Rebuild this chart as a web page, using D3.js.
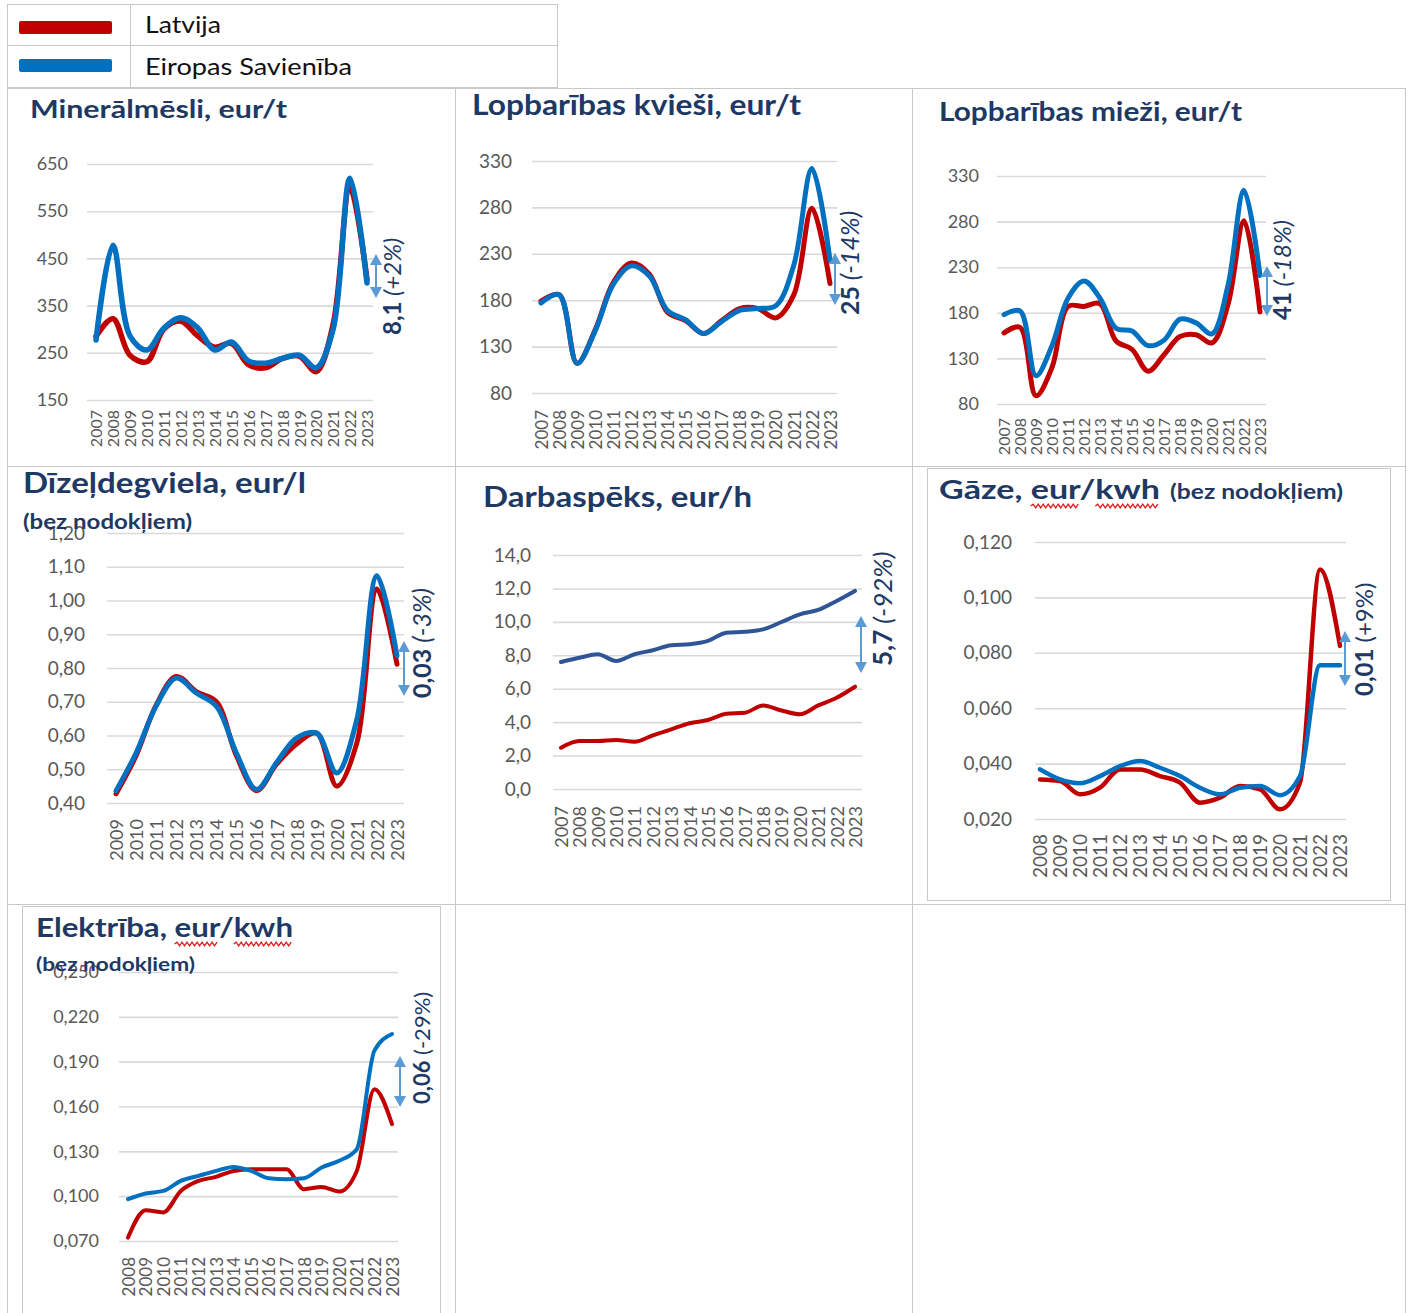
<!DOCTYPE html>
<html><head><meta charset="utf-8">
<script src="https://cdn.jsdelivr.net/npm/d3@7"></script>
<style>
body{margin:0;background:#fff}
svg{display:block}
text{font-family:Lato,"Open Sans","DejaVu Sans",sans-serif}
</style>
</head><body>
<svg id="c" width="1409" height="1313"></svg>
<script>
// ---------------- DATA ----------------
const seriesNames = ["Latvija", "Eiropas Savienība"];

const years2007 = [2007,2008,2009,2010,2011,2012,2013,2014,2015,2016,2017,2018,2019,2020,2021,2022,2023];
const years2008 = [2008,2009,2010,2011,2012,2013,2014,2015,2016,2017,2018,2019,2020,2021,2022,2023];
const years2009 = [2009,2010,2011,2012,2013,2014,2015,2016,2017,2018,2019,2020,2021,2022,2023];

const panelTitles = ["Minerālmēsli, eur/t","Lopbarības kvieši, eur/t","Lopbarības mieži, eur/t",
  "Dīzeļdegviela, eur/l","Darbaspēks, eur/h","Gāze, eur/kwh","Elektrība, eur/kwh"];
const subTitle = "(bez nodokļiem)";

const mineralLV = [285,322,245,231,300,317,286,262,270,225,218,238,243,210,310,600,405];
const mineralEU = [277,478,286,256,302,324,303,256,273,233,228,238,245,218,300,620,398];
const mineralTicks = [150,250,350,450,550,650];

const wheatLV = [179,186,112,148,199,220,208,167,158,144,158,171,171,161,186,279,198];
const wheatEU = [177,186,112,147,197,217,206,169,159,144,157,169,171,174,218,322,223];
const wheatTicks = [80,130,180,230,280,330];

const barleyLV = [158,164,89,120,187,187,190,149,140,116,134,154,156,147,189,281,181];
const barleyEU = [178,182,111,144,196,215,196,163,160,144,150,173,169,157,210,314,221];
const barleyTicks = [80,130,180,230,280,330];

const dieselLV = [0.427,0.540,0.690,0.775,0.730,0.700,0.540,0.437,0.515,0.575,0.607,0.450,0.578,1.034,0.811];
const dieselEU = [0.436,0.548,0.687,0.770,0.726,0.687,0.548,0.440,0.520,0.593,0.607,0.489,0.648,1.073,0.836];
const dieselTicks = [0.40,0.50,0.60,0.70,0.80,0.90,1.00,1.10,1.20];

const labourLV = [2.47,2.87,2.87,2.93,2.83,3.21,3.57,3.93,4.13,4.50,4.56,5.00,4.70,4.47,5.00,5.46,6.12];
const labourEU = [7.60,7.85,8.06,7.66,8.06,8.30,8.60,8.66,8.86,9.35,9.41,9.55,9.99,10.45,10.71,11.25,11.85];
const labourTicks = [0,2,4,6,8,10,12,14];

const gasLV = [0.0343,0.0337,0.0289,0.0313,0.0379,0.0379,0.0355,0.0331,0.0259,0.0277,0.0319,0.0307,0.0235,0.0331,0.1101,0.0825];
const gasEU = [0.0379,0.0343,0.0329,0.0355,0.0391,0.0409,0.0385,0.0355,0.0313,0.0289,0.0313,0.0319,0.0286,0.0355,0.0755,0.0755];
const gasTicks = [0.020,0.040,0.060,0.080,0.100,0.120];

const elecLV = [0.0723,0.0906,0.0891,0.1035,0.1102,0.1129,0.1169,0.1180,0.1180,0.1180,0.1047,0.1062,0.1031,0.1169,0.1716,0.1482];
const elecEU = [0.0980,0.1018,0.1035,0.1102,0.1136,0.1169,0.1196,0.1169,0.1120,0.1113,0.1120,0.1192,0.1237,0.1314,0.1974,0.2085];
const elecTicks = [0.070,0.100,0.130,0.160,0.190,0.220,0.250];

const gapValues = ["8,1","25","41","0,03","5,7","0,01","0,06"];
const gapPercents = ["(+2%)","(-14%)","(-18%)","(-3%)","(-92%)","(+9%)","(-29%)"];

// ---------------- STYLE ----------------
const C_LV = "#c00000", C_EU = "#0070c0", C_EU2 = "#2f5597";
const NAVY = "#203864", GRID = "#d9d9d9", TICKC = "#595959", ARROW = "#5b9bd5", FRAME = "#c8c8c8";
const f0 = v => d3.format("d")(v);
const f1 = v => d3.format(".1f")(v).replace(".", ",");
const f2 = v => d3.format(".2f")(v).replace(".", ",");
const f3 = v => d3.format(".3f")(v).replace(".", ",");

const svg = d3.select("#c");

// ---------------- TABLE FRAME ----------------
const fr = svg.append("g").attr("stroke", FRAME).attr("stroke-width", 1).attr("fill", "none");
[88.5, 466.5, 904.5].forEach(yy => fr.append("line").attr("x1", 7).attr("x2", 1406).attr("y1", yy).attr("y2", yy));
[7.5, 455.5, 912.5, 1405.5].forEach(xx => fr.append("line").attr("x1", xx).attr("x2", xx).attr("y1", 88).attr("y2", 1313));
fr.append("rect").attr("x", 7.5).attr("y", 4.5).attr("width", 550).attr("height", 83);
fr.append("line").attr("x1", 7.5).attr("x2", 557.5).attr("y1", 45.5).attr("y2", 45.5);
fr.append("line").attr("x1", 130.5).attr("x2", 130.5).attr("y1", 4.5).attr("y2", 87.5);
fr.append("rect").attr("x", 927.5).attr("y", 468.5).attr("width", 463).attr("height", 432);
fr.append("rect").attr("x", 22.5).attr("y", 906.5).attr("width", 418).attr("height", 410);

// ---------------- LEGEND ----------------
const leg = svg.append("g");
[C_LV, C_EU].forEach((c, i) => {
  leg.append("rect").attr("x", 19).attr("y", 21 + i * 38).attr("width", 93).attr("height", 13).attr("rx", 2).attr("fill", c);
  leg.append("text").attr("x", 145).attr("y", 33 + i * 42).attr("font-size", 24).attr("fill", "#111")
    .attr("textLength", i ? 207 : 76).attr("lengthAdjust", "spacingAndGlyphs").text(seriesNames[i]);
});

// ---------------- PANELS ----------------
const panels = [
  {title: panelTitles[0], tx: 30, ty: 118, tfs: 25, tlen: 257,
   years: years2007, lv: mineralLV, eu: mineralEU, ticks: mineralTicks, fmt: f0,
   gx0: 87, gx1: 373, px0: 96, px1: 367, yTop: 164, yBot: 400, tickRight: 68, tickFs: 18,
   yearTop: 410, yearFs: 16, lw: 5.5, curve: d3.curveCatmullRom.alpha(0.5), eu_c: C_EU,
   ann: {ax: 376, ay0: 254, ay1: 298, cx: 392, start: 335, fs: 24, italic: true}},
  {title: panelTitles[1], tx: 472, ty: 115, tfs: 28, tlen: 329,
   years: years2007, lv: wheatLV, eu: wheatEU, ticks: wheatTicks, fmt: f0,
   gx0: 532, gx1: 837, px0: 541, px1: 830, yTop: 161, yBot: 393, tickRight: 512, tickFs: 19,
   yearTop: 410, yearFs: 17, lw: 5, curve: d3.curveCatmullRom.alpha(0.5), eu_c: C_EU,
   ann: {ax: 835, ay0: 253, ay1: 305, cx: 850, start: 315, fs: 25, italic: true}},
  {title: panelTitles[2], tx: 939, ty: 121, tfs: 26, tlen: 303,
   years: years2007, lv: barleyLV, eu: barleyEU, ticks: barleyTicks, fmt: f0,
   gx0: 997, gx1: 1266, px0: 1004, px1: 1260, yTop: 176, yBot: 404, tickRight: 979, tickFs: 18,
   yearTop: 418, yearFs: 16, lw: 5, curve: d3.curveCatmullRom.alpha(0.5), eu_c: C_EU,
   ann: {ax: 1267, ay0: 266, ay1: 316, cx: 1282, start: 320, fs: 24, italic: true}},
  {title: panelTitles[3], tx: 23, ty: 493, tfs: 29, tlen: 283, sub: {x: 23, y: 529, fs: 20, len: 169},
   years: years2009, lv: dieselLV, eu: dieselEU, ticks: dieselTicks, fmt: f2,
   gx0: 107, gx1: 404, px0: 116, px1: 397, yTop: 533, yBot: 803, tickRight: 85, tickFs: 19,
   yearTop: 819, yearFs: 18, lw: 5, curve: d3.curveCatmullRom.alpha(0.5), eu_c: C_EU,
   ann: {ax: 404, ay0: 641, ay1: 696, cx: 422, start: 698, fs: 25, italic: true}},
  {title: panelTitles[4], tx: 483, ty: 507, tfs: 28, tlen: 269,
   years: years2007, lv: labourLV, eu: labourEU, ticks: labourTicks, fmt: f1,
   gx0: 553, gx1: 862, px0: 561, px1: 855, yTop: 555, yBot: 789, tickRight: 531, tickFs: 19,
   yearTop: 806, yearFs: 18, lw: 4, curve: d3.curveMonotoneX, eu_c: C_EU2,
   ann: {ax: 861, ay0: 616, ay1: 673, cx: 883, start: 666, fs: 26, italic: true}},
  {title: panelTitles[5], tx: 939, ty: 499, tfs: 26, tlen: 221, sub: {x: 1170, y: 499, fs: 20, len: 173}, wavy: true,
   years: years2008, lv: gasLV, eu: gasEU, ticks: gasTicks, fmt: f3,
   gx0: 1035, gx1: 1346, px0: 1040, px1: 1340, yTop: 542, yBot: 819, tickRight: 1012, tickFs: 19,
   yearTop: 834, yearFs: 19, lw: 4.5, curve: d3.curveMonotoneX, eu_c: C_EU,
   ann: {ax: 1345, ay0: 631, ay1: 686, cx: 1364, start: 696, fs: 24, italic: false}},
  {title: panelTitles[6], tx: 36, ty: 937, tfs: 26, tlen: 257, sub: {x: 36, y: 971, fs: 19, len: 159}, wavy: true,
   years: years2008, lv: elecLV, eu: elecEU, ticks: elecTicks, fmt: f3,
   gx0: 119, gx1: 398, px0: 128, px1: 392, yTop: 972, yBot: 1241, tickRight: 99, tickFs: 18,
   yearTop: 1257, yearFs: 17, lw: 4, curve: d3.curveMonotoneX, eu_c: C_EU,
   ann: {ax: 400, ay0: 1056, ay1: 1107, cx: 422, start: 1104, fs: 22, italic: false}}
];

function wavyPath(x0, x1, yy) {
  let d = `M${x0},${yy}`;
  let up = true;
  for (let xx = x0 + 2.5; xx <= x1; xx += 2.5) { d += `L${xx},${yy + (up ? -1.8 : 1.8)}`; up = !up; }
  return d;
}

panels.forEach((p, idx) => {
  const g = svg.append("g");
  const x = d3.scalePoint().domain(p.years).range([p.px0, p.px1]);
  const y = d3.scaleLinear().domain([p.ticks[0], p.ticks[p.ticks.length - 1]]).range([p.yBot, p.yTop]);

  const ya = g.append("g").attr("transform", `translate(${p.gx0},0)`)
    .call(d3.axisLeft(y).tickValues(p.ticks).tickFormat(p.fmt).tickSize(-(p.gx1 - p.gx0)).tickPadding(p.gx0 - p.tickRight));
  ya.select(".domain").remove();
  ya.selectAll(".tick line").attr("stroke", GRID).attr("stroke-width", 1.6);
  ya.selectAll(".tick text").attr("fill", TICKC).attr("font-size", p.tickFs).attr("font-family", "Lato");

  const xa = g.append("g").attr("transform", `translate(0,${p.yearTop})`)
    .call(d3.axisBottom(x).tickSize(0).tickPadding(0));
  xa.select(".domain").remove();
  xa.selectAll(".tick text").attr("fill", TICKC).attr("font-size", p.yearFs).attr("font-family", "Lato")
    .attr("transform", "rotate(-90)").attr("text-anchor", "end").attr("x", 0).attr("y", 0).attr("dy", "0.36em");

  const line = d3.line().x((d, i) => x(p.years[i])).y(d => y(d)).curve(p.curve);
  g.append("path").datum(p.lv).attr("d", line).attr("fill", "none").attr("stroke", C_LV)
    .attr("stroke-width", p.lw).attr("stroke-linecap", "round").attr("stroke-linejoin", "round");
  g.append("path").datum(p.eu).attr("d", line).attr("fill", "none").attr("stroke", p.eu_c)
    .attr("stroke-width", p.lw).attr("stroke-linecap", "round").attr("stroke-linejoin", "round");

  const t = g.append("text").attr("x", p.tx).attr("y", p.ty).attr("font-size", p.tfs).attr("font-weight", 700)
    .attr("fill", NAVY).attr("textLength", p.tlen).attr("lengthAdjust", "spacingAndGlyphs").text(p.title);
  if (p.sub) {
    g.append("text").attr("x", p.sub.x).attr("y", p.sub.y).attr("font-size", p.sub.fs).attr("font-weight", 700)
      .attr("fill", NAVY).attr("textLength", p.sub.len).attr("lengthAdjust", "spacingAndGlyphs").text(subTitle);
  }
  if (p.wavy) {
    const node = t.node();
    const s = p.title;
    ["eur", "kwh"].forEach(w => {
      const i0 = s.indexOf(w), i1 = i0 + w.length - 1;
      try {
        const a = node.getExtentOfChar(i0), b = node.getExtentOfChar(i1);
        g.append("path").attr("d", wavyPath(a.x, b.x + b.width, p.ty + 7)).attr("fill", "none")
          .attr("stroke", "#e02020").attr("stroke-width", 1.4);
      } catch (e) {}
    });
  }

  const a = p.ann;
  g.append("line").attr("x1", a.ax).attr("x2", a.ax).attr("y1", a.ay0 + 8).attr("y2", a.ay1 - 8)
    .attr("stroke", ARROW).attr("stroke-width", 2);
  g.append("path").attr("d", `M${a.ax},${a.ay0}L${a.ax - 6},${a.ay0 + 11}L${a.ax + 6},${a.ay0 + 11}Z`).attr("fill", ARROW);
  g.append("path").attr("d", `M${a.ax},${a.ay1}L${a.ax - 6},${a.ay1 - 11}L${a.ax + 6},${a.ay1 - 11}Z`).attr("fill", ARROW);
  const at = g.append("text").attr("transform", `translate(${a.cx + a.fs * 0.36},${a.start}) rotate(-90)`)
    .attr("font-size", a.fs).attr("fill", NAVY);
  at.append("tspan").attr("font-weight", 700).text(gapValues[idx]);
  at.append("tspan").attr("font-style", a.italic ? "italic" : "normal").text("\u00a0" + gapPercents[idx]);
});
</script>
</body></html>
